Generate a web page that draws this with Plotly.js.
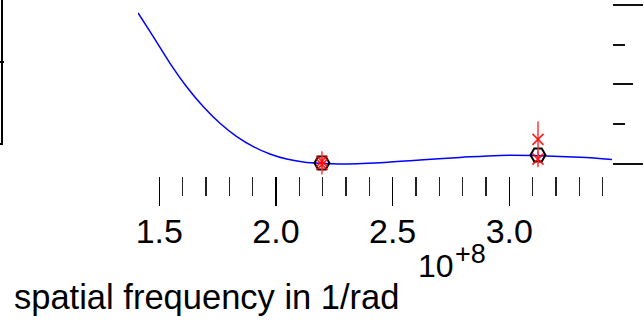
<!DOCTYPE html>
<html>
<head>
<meta charset="utf-8">
<script src="https://cdn.plot.ly/plotly-3.0.1.min.js"></script>
<style>html,body{margin:0;padding:0;background:#fff;}#plot{width:644px;height:325px;}</style>
</head>
<body>
<div id="plot"></div>
<script>
// model curve (spatial frequency in 1/rad, arbitrary y units)
const curveFreq = [1.409e8, 1.474e8, 1.546e8, 1.617e8, 1.689e8, 1.760e8, 1.832e8, 1.903e8, 1.974e8, 2.046e8, 2.117e8, 2.189e8, 2.274e8, 2.446e8, 2.617e8, 2.789e8, 2.960e8, 3.132e8, 3.303e8, 3.440e8];
const curveVal  = [0.950, 0.801, 0.633, 0.486, 0.360, 0.256, 0.172, 0.109, 0.063, 0.031, 0.013, 0.004, 0.000, 0.008, 0.025, 0.041, 0.054, 0.052, 0.042, 0.028];
// model points (black hexagons)
const modelFreq = [2.197e8, 3.123e8];
const modelVal  = [0.006, 0.057];
// observed points (red crosses) with errors
const obsFreq = [2.197e8, 2.197e8, 3.123e8, 3.123e8];
const obsVal  = [0.018, -0.004, 0.155, 0.030];
const obsErr  = [0.062, 0.062, 0.113, 0.050];
// axis ticks
const xTickVals = [1.5e8, 2.0e8, 2.5e8, 3.0e8];
const xTickText = ["1.5", "2.0", "2.5", "3.0"];
const xMinorStep = 0.1e8;
const yMajorTicks = [0, 1];
const yMidTicks = [0.5];
const yMinorTicks = [0.25, 0.75];
const xLabel = "spatial frequency in 1/rad";

const FONT = "Liberation Sans, Arial, Helvetica, sans-serif";
const yRange = [-0.0755, 1.0314];

const traces = [
  {x: curveFreq, y: curveVal, mode: "lines", line: {color: "#0000ff", width: 1.5, shape: "spline", smoothing: 1}, hoverinfo: "skip", showlegend: false},
  {x: modelFreq, y: modelVal, mode: "markers", marker: {symbol: "hexagon2-open", size: 15, color: "#000", line: {color: "#000", width: 2}}, showlegend: false},
  {x: obsFreq, y: obsVal, mode: "markers", marker: {symbol: "x-thin-open", size: 11, color: "rgba(255,0,0,0.85)", line: {color: "rgba(255,0,0,0.85)", width: 1.8}},
   error_y: {type: "data", array: obsErr, visible: true, color: "rgba(255,40,40,0.7)", thickness: 2, width: 0}, showlegend: false},
  {x: [], y: [], yaxis: "y2", showlegend: false}
];

const layout = {
  width: 644, height: 325,
  margin: {l: 138, r: 32, t: 0, b: 149, pad: 0},
  paper_bgcolor: "#fff", plot_bgcolor: "#fff",
  showlegend: false,
  font: {family: FONT, color: "#000"},
  xaxis: {
    range: [1.4087e8, 3.4402e8],
    tickmode: "array", tickvals: xTickVals, ticktext: xTickText,
    ticks: "outside", ticklen: 29, tickwidth: 1.5, tickcolor: "#000",
    ticklabelstandoff: -4,
    minor: {ticks: "outside", tick0: 1.5e8, dtick: xMinorStep, ticklen: 19, tickwidth: 1.5, tickcolor: "#222", showgrid: false},
    showline: false, showgrid: false, zeroline: false,
    tickfont: {family: FONT, size: 34, color: "#000"},
    fixedrange: true
  },
  yaxis: {
    range: yRange, side: "right",
    tickmode: "array", tickvals: yMajorTicks,
    ticks: "outside", ticklen: 30, tickwidth: 2, tickcolor: "#111",
    minor: {ticks: "outside", tickmode: "array", tickvals: yMinorTicks, ticklen: 12, tickwidth: 2, tickcolor: "#111", showgrid: false},
    showticklabels: false, showline: false, showgrid: false, zeroline: false
  },
  yaxis2: {
    range: yRange, side: "right", overlaying: "y", anchor: "x",
    tickmode: "array", tickvals: yMidTicks,
    ticks: "outside", ticklen: 20, tickwidth: 2, tickcolor: "#111",
    showticklabels: false, showline: false, showgrid: false, zeroline: false
  },
  shapes: [
    {type: "line", xref: "paper", yref: "paper", x0: -0.2869, x1: -0.2869, y0: 1.0, y1: 0.1790, line: {color: "#000", width: 2}},
    {type: "line", xref: "paper", yref: "paper", x0: -0.2911, x1: -0.2827, y0: 0.6477, y1: 0.6477, line: {color: "#000", width: 2}},
    {type: "line", xref: "paper", yref: "paper", x0: -0.2911, x1: -0.2850, y0: 0.1818, y1: 0.1818, line: {color: "#000", width: 2}}
  ],
  annotations: [
    {text: xLabel, xref: "paper", yref: "paper", x: -0.2658, y: -0.6875, xanchor: "left", yanchor: "middle", showarrow: false, font: {family: FONT, size: 34.5, color: "#000"}},
    {text: "10", xref: "paper", yref: "paper", x: 0.6287, y: -0.511, xanchor: "center", yanchor: "middle", showarrow: false, font: {family: FONT, size: 32, color: "#000"}},
    {text: "+8", xref: "paper", yref: "paper", x: 0.7025, y: -0.443, xanchor: "center", yanchor: "middle", showarrow: false, font: {family: FONT, size: 27, color: "#000"}}
  ]
};

Plotly.newPlot("plot", traces, layout, {displayModeBar: false, staticPlot: true});
</script>
</body>
</html>
